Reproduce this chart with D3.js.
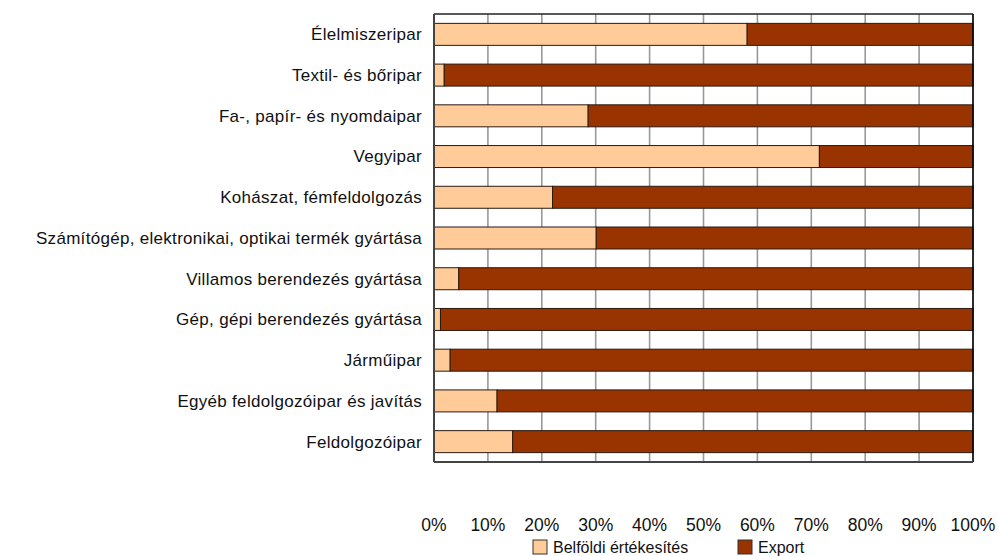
<!DOCTYPE html>
<html>
<head>
<meta charset="utf-8">
<script src="https://cdn.jsdelivr.net/npm/d3@7"></script>
<style>
  html, body { margin: 0; padding: 0; background: #fff; }
  svg { display: block; }
  text { font-family: "Liberation Sans", Arial, sans-serif; fill: #111; }
</style>
</head>
<body>
<svg id="chart" width="999" height="556"></svg>
<script>
const categories = [
  "Élelmiszeripar",
  "Textil- és bőripar",
  "Fa-, papír- és nyomdaipar",
  "Vegyipar",
  "Kohászat, fémfeldolgozás",
  "Számítógép, elektronikai, optikai termék gyártása",
  "Villamos berendezés gyártása",
  "Gép, gépi berendezés gyártása",
  "Járműipar",
  "Egyéb feldolgozóipar és javítás",
  "Feldolgozóipar"
];
const belfoldi = [58.1, 1.9, 28.6, 71.5, 22.0, 30.1, 4.6, 1.2, 3.0, 11.7, 14.6];
const exportShare = belfoldi.map(v => 100 - v);
const seriesNames = ["Belföldi értékesítés", "Export"];
const seriesColors = ["#FFCC99", "#993300"];
const xTicks = [0, 10, 20, 30, 40, 50, 60, 70, 80, 90, 100];

const svg = d3.select("#chart");
const m = { left: 434, right: 973, top: 14, bottom: 462 };

const x = d3.scaleLinear().domain([0, 100]).range([m.left, m.right]);
const y = d3.scaleBand().domain(categories).range([m.top, m.bottom]).paddingInner(0.46).paddingOuter(0.23);

// vertical gridlines
svg.append("g").selectAll("line").data(xTicks).join("line")
  .attr("x1", d => x(d)).attr("x2", d => x(d))
  .attr("y1", m.top).attr("y2", m.bottom)
  .attr("stroke", "#999").attr("stroke-width", 1.6);

const stackData = categories.map((c, i) => ({ cat: c, b: belfoldi[i], e: exportShare[i] }));
const stack = d3.stack().keys(["b", "e"])(stackData);

svg.append("g").selectAll("g").data(stack).join("g")
  .attr("fill", (d, i) => seriesColors[i])
  .selectAll("rect").data(d => d).join("rect")
  .attr("x", d => x(d[0]))
  .attr("width", d => x(d[1]) - x(d[0]))
  .attr("y", d => y(d.data.cat))
  .attr("height", y.bandwidth())
  .attr("stroke", "#2a1a10").attr("stroke-width", 1);

// plot border
svg.append("line").attr("x1", m.left).attr("x2", m.right).attr("y1", m.top).attr("y2", m.top)
  .attr("stroke", "#222").attr("stroke-width", 1.5);
svg.append("line").attr("x1", m.right).attr("x2", m.right).attr("y1", m.top).attr("y2", m.bottom)
  .attr("stroke", "#000").attr("stroke-width", 1.5);
svg.append("line").attr("x1", m.left).attr("x2", m.left).attr("y1", m.top).attr("y2", m.bottom)
  .attr("stroke", "#444").attr("stroke-width", 2);
svg.append("line").attr("x1", m.left).attr("x2", m.right).attr("y1", m.bottom).attr("y2", m.bottom)
  .attr("stroke", "#444").attr("stroke-width", 2);

// category labels
svg.append("g").selectAll("text").data(categories).join("text")
  .attr("x", m.left - 12)
  .attr("y", d => y(d) + y.bandwidth() / 2)
  .attr("dy", "0.35em")
  .attr("text-anchor", "end")
  .attr("font-size", 17)
  .attr("letter-spacing", 0.3)
  .text(d => d);

// x tick labels
svg.append("g").selectAll("text").data(xTicks).join("text")
  .attr("x", d => x(d))
  .attr("y", 531)
  .attr("text-anchor", "middle")
  .attr("font-size", 17.5)
  .text(d => d + "%");

// legend
const legendX = [533, 738];
const lg = svg.append("g").selectAll("g").data(seriesNames).join("g")
  .attr("transform", (d, i) => `translate(${legendX[i]},540)`);
lg.append("rect").attr("width", 14).attr("height", 14)
  .attr("fill", (d, i) => seriesColors[i]).attr("stroke", "#333").attr("stroke-width", 1);
lg.append("text").attr("x", 20).attr("y", 13).attr("font-size", 16).text(d => d);
</script>
</body>
</html>
